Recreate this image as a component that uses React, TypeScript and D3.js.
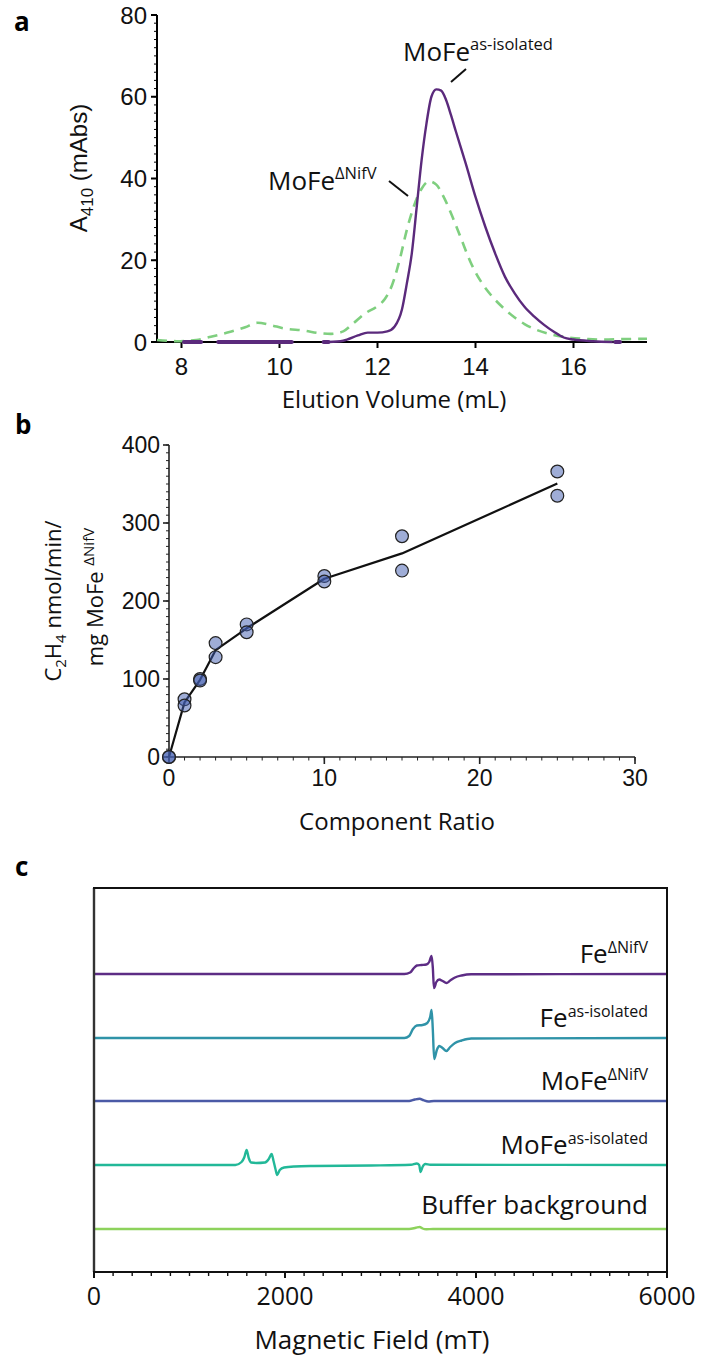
import React from 'react';
import * as d3 from 'd3';

// ---------- Panel a: elution profiles ----------
const elutionTicksX = [8, 10, 12, 14, 16];
const elutionTicksY = [0, 20, 40, 60, 80];
const mofeAsIsolatedElution: [number, number][] = [
  [11.0, 0], [11.3, 0.3], [11.6, 1.6], [11.8, 2.3], [12.0, 2.3], [12.2, 2.6], [12.35, 3.8],
  [12.5, 8], [12.6, 14.4], [12.7, 21.7], [12.8, 33], [12.9, 44.5], [13.0, 53.5], [13.1, 60],
  [13.2, 61.8], [13.3, 61.5], [13.4, 59.2], [13.5, 55.5], [13.6, 51.5], [13.8, 43.7],
  [14.0, 35.5], [14.2, 28.2], [14.4, 21.7], [14.6, 16], [14.8, 11.9], [15.0, 8.6], [15.2, 6.2],
  [15.4, 4.2], [15.6, 2.5], [15.8, 1.1], [16.0, 0.6], [16.4, 0.2], [16.8, 0],
];
const mofeAsIsolatedBaseline: [number, number][] = [
  [8.05, 8.4], [8.75, 10.25], [10.9, 11.0], [16.85, 16.95],
];
const mofeNifVElution: [number, number][] = [
  [7.5, 0.5], [7.9, 0.2], [8.3, 0.5], [8.6, 1.3], [9.0, 2.5], [9.3, 3.6], [9.55, 4.7], [9.8, 4.2],
  [10.1, 3.3], [10.5, 2.8], [10.8, 2.2], [11.05, 2.0], [11.3, 2.6], [11.5, 4.5], [11.75, 7.0],
  [12.0, 8.8], [12.15, 10.5], [12.3, 14], [12.45, 20], [12.6, 27.5], [12.75, 33.5], [12.9, 37.5],
  [13.05, 39.3], [13.2, 38.5], [13.35, 35.5], [13.5, 31.5], [13.7, 25.5], [13.9, 19.5],
  [14.1, 15], [14.35, 11], [14.6, 8], [14.8, 6], [15.0, 4.4], [15.2, 3.2], [15.5, 2],
  [15.9, 1.1], [16.3, 0.7], [16.6, 0.6], [17.0, 0.7], [17.5, 0.8],
];

// ---------- Panel b: activity vs component ratio ----------
const componentRatio = [0, 1, 2, 3, 5, 10, 15, 25];
const activityRep1 = [0, 74, 100, 146, 170, 232, 283, 366];
const activityRep2 = [0, 66, 98, 128, 160, 225, 239, 335];
const ratioTicks = [0, 10, 20, 30];
const activityTicks = [0, 100, 200, 300, 400];

// ---------- Panel c: EPR spectra ----------
const fieldTicks = [0, 2000, 4000, 6000];
const eprLabels = ['Fe', 'Fe', 'MoFe', 'MoFe', 'Buffer background'];
const eprSups = ['ΔNifV', 'as-isolated', 'ΔNifV', 'as-isolated', ''];
const eprColors = ['#5d2c85', '#2f93a8', '#4b5aa6', '#22b898', '#8dd25c'];
const eprOffsets = [298, 234, 171, 107, 43];
const eprFeNifV: [number, number][] = [
  [0, 0], [3250, 0], [3310, 1.5], [3350, 6], [3380, 8.5], [3430, 9], [3480, 9.5], [3510, 12],
  [3535, 18], [3548, 6], [3560, -14], [3585, -8], [3615, -5.5], [3650, -7], [3690, -9],
  [3730, -6.5], [3780, -3.5], [3850, -1.5], [3950, -0.3], [6000, 0],
];
const eprFeAsIsolated: [number, number][] = [
  [0, 0], [3250, 0], [3300, 2], [3340, 9], [3380, 12.5], [3440, 13], [3490, 15], [3520, 21],
  [3535, 28], [3548, 8], [3562, -21], [3590, -12], [3615, -8], [3650, -10], [3690, -13],
  [3730, -9], [3780, -5], [3850, -2.5], [3950, -0.5], [6000, 0],
];
const eprMoFeNifV: [number, number][] = [
  [0, 0], [3300, 0], [3360, 1.5], [3410, 2.2], [3450, 0.8], [3500, -0.5], [3560, 0], [6000, 0],
];
const eprMoFeAsIsolated: [number, number][] = [
  [0, 0], [1480, 0], [1545, 3], [1575, 8], [1598, 15], [1620, 7], [1645, 2.5], [1700, 2],
  [1790, 2.5], [1830, 6], [1860, 11], [1880, 4], [1900, -4], [1918, -10], [1945, -5],
  [1990, -2.5], [2100, -1.5], [2300, -1], [2900, -0.5], [3320, 0.3], [3380, 1.5], [3405, 0],
  [3420, -7], [3440, -2], [3470, 1], [3520, 0.3], [6000, 0],
];
const eprBuffer: [number, number][] = [
  [0, 0], [3300, 0], [3370, 1.2], [3410, 2], [3440, 0.5], [3480, -0.3], [3550, 0], [6000, 0],
];
const eprSpectra = [eprFeNifV, eprFeAsIsolated, eprMoFeNifV, eprMoFeAsIsolated, eprBuffer];

const TICK_FONT = '"Liberation Sans", Arial, sans-serif';
const TEXT_FONT = '"Open Sans", "Noto Sans", sans-serif';

export default function App() {
  // ----- scales
  const xA = d3.scaleLinear().domain([7.5, 17.5]).range([157, 647]);
  const yA = d3.scaleLinear().domain([0, 80]).range([342, 15]);
  const xB = d3.scaleLinear().domain([0, 30]).range([169, 635]);
  const yB = d3.scaleLinear().domain([0, 400]).range([757, 445]);
  const xC = d3.scaleLinear().domain([0, 6000]).range([94, 667]);
  const yC = d3.scaleLinear().domain([0, 384]).range([1272, 888]);

  const lineA = d3.line<[number, number]>().x(d => xA(d[0])).y(d => yA(d[1])).curve(d3.curveMonotoneX);
  const meanActivity = componentRatio.map((r, i) => [r, (activityRep1[i] + activityRep2[i]) / 2] as [number, number]);
  const lineB = d3.line<[number, number]>().x(d => xB(d[0])).y(d => yB(d[1]));

  const minorA = d3.range(0, 80.01, 2);
  const minorBy = d3.range(0, 400.01, 10);
  const minorBx = d3.range(0, 30.01, 1);
  const minorC = d3.range(0, 6000.01, 200);

  const pts = componentRatio.flatMap((r, i) => [[r, activityRep1[i]], [r, activityRep2[i]]]);

  return (
    <svg width={701} height={1356} style={{ position: 'absolute', left: 0, top: 0, background: '#fff' }}>
      {/* ================= Panel a ================= */}
      <text x={14} y={31} fontFamily={TEXT_FONT} fontWeight={700} fontSize={26}>a</text>
      {/* y axis */}
      <line x1={xA(7.5)} x2={xA(7.5)} y1={yA(0)} y2={yA(80)} stroke="#000" strokeWidth={2} />
      {minorA.map(v => (
        <line key={'am' + v} x1={xA(7.5) - 3} x2={xA(7.5)} y1={yA(v)} y2={yA(v)} stroke="#000" strokeWidth={1} />
      ))}
      {elutionTicksY.map(v => (
        <g key={'ay' + v}>
          <line x1={xA(7.5) - 6} x2={xA(7.5)} y1={yA(v)} y2={yA(v)} stroke="#000" strokeWidth={2} />
          <text x={xA(7.5) - 10} y={yA(v) + 8.5} textAnchor="end" fontFamily={TICK_FONT} fontSize={24} fill="#111">{v}</text>
        </g>
      ))}
      {/* x axis */}
      <line x1={xA(7.5) - 5} x2={xA(17.5)} y1={yA(0)} y2={yA(0)} stroke="#000" strokeWidth={2} />
      {elutionTicksX.map(v => (
        <g key={'ax' + v}>
          <line x1={xA(v)} x2={xA(v)} y1={yA(0)} y2={yA(0) + 6} stroke="#000" strokeWidth={2} />
          <text x={xA(v)} y={375} textAnchor="middle" fontFamily={TICK_FONT} fontSize={24} fill="#111">{v}</text>
        </g>
      ))}
      <text x={394} y={408} textAnchor="middle" fontFamily={TEXT_FONT} fontSize={24} fill="#111">Elution Volume (mL)</text>
      <text transform="translate(87,168) rotate(-90)" textAnchor="middle" fontFamily={TICK_FONT} fontSize={24} fill="#111">
        A<tspan fontSize={17} dy={6}>410</tspan><tspan dy={-6}> (mAbs)</tspan>
      </text>
      {/* data */}
      <path d={lineA(mofeNifVElution) || ''} fill="none" stroke="#7fcf7f" strokeWidth={2.6} strokeDasharray="10 7" />
      <path d={lineA(mofeAsIsolatedElution) || ''} fill="none" stroke="#5b2a7c" strokeWidth={2.4} />
      {mofeAsIsolatedBaseline.map((s, i) => (
        <line key={'pb' + i} x1={xA(s[0])} x2={xA(s[1])} y1={yA(0)} y2={yA(0)} stroke="#5b2a7c" strokeWidth={4} strokeLinecap="round" />
      ))}
      {/* labels */}
      <text x={403} y={61} fontFamily={TEXT_FONT} fontSize={26} fill="#111">
        MoFe<tspan fontSize={16.5} dy={-11}>as-isolated</tspan>
      </text>
      <line x1={451} y1={82} x2={466} y2={69} stroke="#111" strokeWidth={2} />
      <text x={268} y={190} fontFamily={TEXT_FONT} fontSize={26} fill="#111">
        MoFe<tspan fontSize={16.5} dy={-11}>ΔNifV</tspan>
      </text>
      <line x1={389} y1={181} x2={408} y2={196} stroke="#111" strokeWidth={2} />

      {/* ================= Panel b ================= */}
      <text x={15} y={434} fontFamily={TEXT_FONT} fontWeight={700} fontSize={26}>b</text>
      <line x1={xB(0)} x2={xB(0)} y1={yB(0)} y2={yB(400)} stroke="#222" strokeWidth={1.6} />
      {minorBy.map(v => (
        <line key={'bmy' + v} x1={xB(0) - 3} x2={xB(0)} y1={yB(v)} y2={yB(v)} stroke="#222" strokeWidth={1} />
      ))}
      {activityTicks.map(v => (
        <g key={'by' + v}>
          <line x1={xB(0) - 6} x2={xB(0)} y1={yB(v)} y2={yB(v)} stroke="#222" strokeWidth={1.6} />
          <text x={xB(0) - 9} y={yB(v) + 8} textAnchor="end" fontFamily={TICK_FONT} fontSize={23} fill="#111">{v}</text>
        </g>
      ))}
      <line x1={xB(0)} x2={xB(30)} y1={yB(0)} y2={yB(0)} stroke="#222" strokeWidth={1.6} />
      {minorBx.map(v => (
        <line key={'bmx' + v} x1={xB(v)} x2={xB(v)} y1={yB(0)} y2={yB(0) + 3.5} stroke="#222" strokeWidth={1} />
      ))}
      {ratioTicks.map(v => (
        <g key={'bx' + v}>
          <line x1={xB(v)} x2={xB(v)} y1={yB(0)} y2={yB(0) + 7} stroke="#222" strokeWidth={1.6} />
          <text x={xB(v)} y={786} textAnchor="middle" fontFamily={TICK_FONT} fontSize={23} fill="#111">{v}</text>
        </g>
      ))}
      <text x={397} y={830} textAnchor="middle" fontFamily={TEXT_FONT} fontSize={24} fill="#111">Component Ratio</text>
      <text transform="translate(61,601) rotate(-90)" textAnchor="middle" fontFamily={TEXT_FONT} fontSize={22} fill="#111">
        C<tspan fontSize={15} dy={5}>2</tspan><tspan dy={-5}>H</tspan><tspan fontSize={15} dy={5}>4</tspan><tspan dy={-5}> nmol/min/</tspan>
      </text>
      <text transform="translate(103,597) rotate(-90)" textAnchor="middle" fontFamily={TEXT_FONT} fontSize={22} fill="#111">
        mg MoFe <tspan fontSize={15} dy={-9}>ΔNifV</tspan>
      </text>
      <path d={lineB(meanActivity) || ''} fill="none" stroke="#111" strokeWidth={2.2} strokeLinejoin="round" />
      {pts.map((p, i) => (
        <circle key={'pt' + i} cx={xB(p[0])} cy={yB(p[1])} r={6.4} fill="#3f5bb0" fillOpacity={0.5} stroke="#222" strokeWidth={1.2} />
      ))}

      {/* ================= Panel c ================= */}
      <text x={15} y={876} fontFamily={TEXT_FONT} fontWeight={700} fontSize={26}>c</text>
      {eprSpectra.map((spec, i) => {
        const ln = d3.line<[number, number]>()
          .x(d => xC(d[0]))
          .y(d => yC(eprOffsets[i] + d[1]))
          .curve(d3.curveMonotoneX);
        return <path key={'epr' + i} d={ln(spec) || ''} fill="none" stroke={eprColors[i]} strokeWidth={2.4} />;
      })}
      {eprLabels.map((lab, i) => (
        <text key={'el' + i} x={648} y={yC(eprOffsets[i]) - (i === 4 ? 15 : 11)} textAnchor="end" fontFamily={TEXT_FONT} fontSize={26} fill="#111">
          {lab}{eprSups[i] ? <tspan fontSize={16} dy={-10}>{eprSups[i]}</tspan> : null}
        </text>
      ))}
      {/* box */}
      <line x1={xC(0)} x2={xC(0)} y1={yC(0)} y2={yC(384)} stroke="#333" strokeWidth={2.4} />
      <line x1={xC(6000)} x2={xC(6000)} y1={yC(0)} y2={yC(384)} stroke="#111" strokeWidth={2} />
      <line x1={xC(0) - 1} x2={xC(6000) + 1} y1={yC(384)} y2={yC(384)} stroke="#111" strokeWidth={2.2} />
      <line x1={xC(0) - 1} x2={xC(6000) + 1} y1={yC(0)} y2={yC(0)} stroke="#111" strokeWidth={2} />
      {minorC.map(v => (
        <line key={'cm' + v} x1={xC(v)} x2={xC(v)} y1={yC(0)} y2={yC(0) + 4} stroke="#111" strokeWidth={1.4} />
      ))}
      {fieldTicks.map(v => (
        <g key={'cx' + v}>
          <line x1={xC(v)} x2={xC(v)} y1={yC(0)} y2={yC(0) + 6} stroke="#111" strokeWidth={2} />
          <text x={xC(v)} y={1305} textAnchor="middle" fontFamily={TEXT_FONT} fontSize={25} fill="#111">{v}</text>
        </g>
      ))}
      <text x={372} y={1349} textAnchor="middle" fontFamily={TEXT_FONT} fontSize={26} fill="#111">Magnetic Field (mT)</text>
    </svg>
  );
}
